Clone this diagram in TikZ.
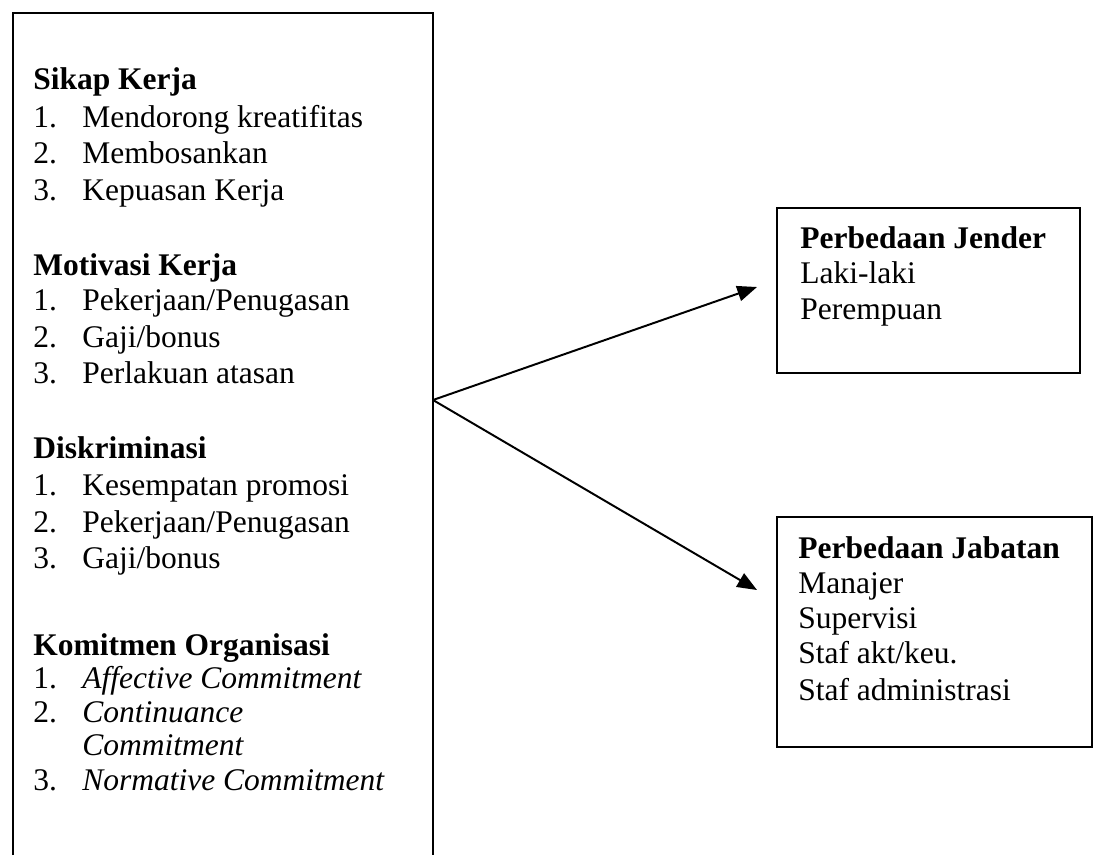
\documentclass[tikz,border=0pt]{standalone}
\usepackage{fontspec}
\setmainfont{Liberation Serif}
\usetikzlibrary{arrows.meta}

\tikzset{
  txt/.style={anchor=base west, inner sep=0pt, font=\fontsize{22.4}{26}\selectfont},
  boxline/.style={line width=1.3pt},
  pil/.style={line width=1.4pt, -{Triangle[length=14pt,width=11pt]}}
}
\newcommand{\nomor}[1]{\makebox[1.225cm][l]{#1}}

\begin{document}
\begin{tikzpicture}[x=0.025cm, y=-0.025cm]
            \useasboundingbox (0,0) rectangle (1096,855);

            % kotak kiri (terbuka di bawah)
            \draw[boxline] (13,855) -- (13,13) -- (433,13) -- (433,855);
            % kotak kanan
            \node[draw, boxline, minimum width=7.575cm, minimum height=4.125cm, inner sep=0pt] (jender) at (928.5,290.5) {};
            \node[draw, boxline, minimum width=7.875cm, minimum height=5.75cm, inner sep=0pt] (jabatan) at (934.5,632) {};

            \node[txt] (sk) at (33,89) { \textbf{Sikap Kerja} };
            \node[txt] (sk1) at (33,127) { \nomor{1.}Mendorong kreatifitas };
            \node[txt] (sk2) at (33,163) { \nomor{2.}Membosankan };
            \node[txt] (sk3) at (33,200) { \nomor{3.}Kepuasan Kerja };

            \node[txt] (mk) at (33,275) { \textbf{Motivasi Kerja} };
            \node[txt] (mk1) at (33,310) { \nomor{1.}Pekerjaan/Penugasan };
            \node[txt] (mk2) at (33,347) { \nomor{2.}Gaji/bonus };
            \node[txt] (mk3) at (33,383) { \nomor{3.}Perlakuan atasan };

            \node[txt] (dk) at (33,458) { \textbf{Diskriminasi} };
            \node[txt] (dk1) at (33,495) { \nomor{1.}Kesempatan promosi };
            \node[txt] (dk2) at (33,532) { \nomor{2.}Pekerjaan/Penugasan };
            \node[txt] (dk3) at (33,568) { \nomor{3.}Gaji/bonus };

            \node[txt] (ko) at (33,655) { \textbf{Komitmen Organisasi} };
            \node[txt] (ko1) at (33,688) { \nomor{1.}\textit{Affective Commitment} };
            \node[txt] (ko2) at (33,722) { \nomor{2.}\textit{Continuance} };
            \node[txt] (ko2b) at (82,755) { \textit{Commitment} };
            \node[txt] (ko3) at (33,790) { \nomor{3.}\textit{Normative Commitment} };

            \node[txt] (pj) at (800,248) { \textbf{Perbedaan Jender} };
            \node[txt] (pj1) at (800,283) { Laki-laki };
            \node[txt] (pj2) at (800,319) { Perempuan };

            \node[txt] (pb) at (798,558) { \textbf{Perbedaan Jabatan} };
            \node[txt] (pb1) at (798,593) { Manajer };
            \node[txt] (pb2) at (798,628) { Supervisi };
            \node[txt] (pb3) at (798,663) { Staf akt/keu. };
            \node[txt] (pb4) at (798,700) { Staf administrasi };

            \coordinate (asal) at (433,400);
            \coordinate (ujung1) at (757,287);
            \coordinate (ujung2) at (757,590);

            \draw[pil] (asal) -- (ujung1);
            \draw[pil] (asal) -- (ujung2);

        \end{tikzpicture}
\end{document}
